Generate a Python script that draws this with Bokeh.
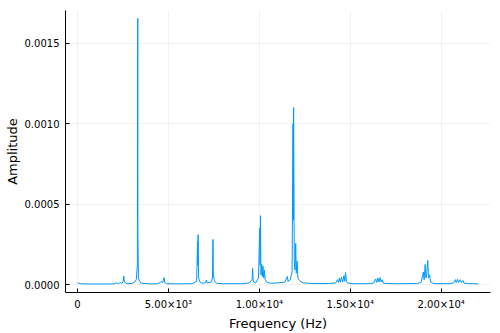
from bokeh.plotting import figure
from bokeh.models import Range1d, FixedTicker
from bokeh.embed import file_html
from bokeh.resources import INLINE

# Spectrum (frequency in Hz, amplitude)
freq = [0, 60, 200, 1000, 2000, 2150, 2250, 2350, 2450, 2510, 2545, 2580, 2700, 3000,
        3150, 3230, 3290, 3305, 3313, 3322, 3350, 3420, 3500, 4000, 4400, 4550, 4620,
        4680, 4740, 4765, 4800, 4900, 5500, 6300, 6550, 6600, 6615, 6630, 6660, 6750,
        6900, 7050, 7090, 7130, 7350, 7420, 7440, 7452, 7470, 7520, 7560, 7650, 8000,
        9000, 9450, 9600, 9630, 9660, 9800, 9950, 10020, 10040, 10060, 10090, 10130,
        10160, 10200, 10240, 10280, 10320, 10400, 10600, 11000, 11400, 11540, 11580,
        11700, 11800, 11850, 11870, 11885, 11920, 11960, 12000, 12030, 12080, 12120,
        12200, 12400, 13000, 13800, 14200, 14300, 14350, 14400, 14450, 14520, 14580,
        14650, 14700, 14740, 14790, 14850, 15100, 16000, 16300, 16400, 16450, 16520,
        16580, 16640, 16700, 16760, 16820, 17500, 18700, 18900, 18980, 19020, 19060,
        19120, 19160, 19200, 19264, 19300, 19360, 19420, 19600, 20500, 20700, 20780,
        20830, 20900, 20960, 21050, 21120, 21200, 21260, 21500, 22050]
amp = [0.000012, 0.000008, 0.000004, 0.000003, 0.000004, 0.000010, 0.000005, 0.000012,
       0.000008, 0.000020, 0.000053, 0.000015, 0.000006, 0.000007, 0.000015, 0.000030,
       0.000120, 0.001175, 0.001654, 0.000300, 0.000040, 0.000020, 0.000008, 0.000004,
       0.000005, 0.000012, 0.000020, 0.000010, 0.000035, 0.000043, 0.000012, 0.000005,
       0.000004, 0.000005, 0.000020, 0.000270, 0.000120, 0.000310, 0.000040, 0.000012,
       0.000008, 0.000012, 0.000028, 0.000010, 0.000015, 0.000040, 0.000230, 0.000280,
       0.000060, 0.000030, 0.000018, 0.000008, 0.000005, 0.000005, 0.000010, 0.000030,
       0.000100, 0.000020, 0.000010, 0.000040, 0.000350, 0.000120, 0.000428, 0.000060,
       0.000125, 0.000050, 0.000115, 0.000040, 0.000090, 0.000030, 0.000015, 0.000008,
       0.000010, 0.000015, 0.000050, 0.000018, 0.000030, 0.000080, 0.001000, 0.000400,
       0.001100, 0.000150, 0.000090, 0.000255, 0.000070, 0.000146, 0.000040, 0.000025,
       0.000010, 0.000006, 0.000006, 0.000010, 0.000030, 0.000012, 0.000040, 0.000015,
       0.000045, 0.000015, 0.000055, 0.000020, 0.000074, 0.000020, 0.000010, 0.000005,
       0.000005, 0.000010, 0.000035, 0.000012, 0.000040, 0.000015, 0.000043, 0.000015,
       0.000030, 0.000008, 0.000005, 0.000006, 0.000015, 0.000060, 0.000078, 0.000030,
       0.000125, 0.000040, 0.000060, 0.000150, 0.000040, 0.000060, 0.000015, 0.000006,
       0.000005, 0.000012, 0.000030, 0.000012, 0.000033, 0.000012, 0.000030, 0.000012,
       0.000025, 0.000008, 0.000006, 0.000004]

x_ticks = [0, 5000, 10000, 15000, 20000]
x_tick_labels = ["0", "5.00×10³", "1.00×10⁴", "1.50×10⁴", "2.00×10⁴"]
y_ticks = [0.0, 0.0005, 0.0010, 0.0015]
y_tick_labels = ["0.0000", "0.0005", "0.0010", "0.0015"]

FONT = "DejaVu Sans"

p = figure(width=500, height=333, output_backend="svg", toolbar_location=None,
           x_range=Range1d(-661.5, 22711.5), y_range=Range1d(-0.0000496, 0.0017034),
           min_border_left=65, min_border_right=10, min_border_top=10, min_border_bottom=40)
p.outline_line_color = None
p.background_fill_color = "white"
p.border_fill_color = "white"

p.line(freq, amp, line_color="#009AFA", line_width=1)

p.xaxis.ticker = FixedTicker(ticks=x_ticks)
p.yaxis.ticker = FixedTicker(ticks=y_ticks)
p.xaxis.major_label_overrides = {t: l for t, l in zip(x_ticks, x_tick_labels)}
p.yaxis.major_label_overrides = {t: l for t, l in zip(y_ticks, y_tick_labels)}
p.xaxis.axis_label = "Frequency (Hz)"
p.yaxis.axis_label = "Amplitude"

for ax in (p.xaxis, p.yaxis):
    ax.axis_line_color = "black"
    ax.axis_line_width = 1
    ax.major_tick_in = 4
    ax.major_tick_out = 0
    ax.major_tick_line_color = "black"
    ax.minor_tick_line_color = None
    ax.major_label_text_font = FONT
    ax.major_label_text_font_size = "10px"
    ax.major_label_text_color = "black"
    ax.axis_label_text_font = FONT
    ax.axis_label_text_font_size = "13px"
    ax.axis_label_text_font_style = "normal"
    ax.axis_label_text_color = "black"

p.xaxis.major_label_standoff = 6
p.xaxis.axis_label_standoff = 3
p.yaxis.major_label_standoff = 6
p.yaxis.axis_label_standoff = 2

for g in (p.xgrid, p.ygrid):
    g.grid_line_color = "black"
    g.grid_line_alpha = 0.1
    g.grid_line_width = 0.5

open("out.html", "w").write(file_html(p, INLINE))
